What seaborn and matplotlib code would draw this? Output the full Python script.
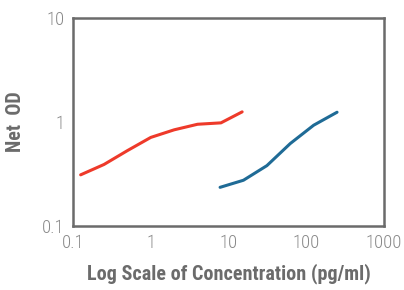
import numpy as np
import pandas as pd
import matplotlib
matplotlib.use('Agg')
import matplotlib.pyplot as plt
import seaborn as sns

# standard curves
red_conc = [0.125, 0.25, 0.5, 1, 2, 4, 8, 15]
red_od = [0.31, 0.39, 0.53, 0.71, 0.84, 0.95, 0.98, 1.25]
blue_conc = [7.8, 15.6, 31.25, 62.5, 125, 250]
blue_od = [0.235, 0.275, 0.38, 0.62, 0.93, 1.24]

xticks = [0.1, 1, 10, 100, 1000]
xtick_labels = ['0.1', '1', '10', '100', '1000']
yticks = [0.1, 1, 10]
ytick_labels = ['0.1', '1', '10']

sns.set_theme(style='white')
plt.rcParams['font.family'] = ['Roboto Condensed', 'DejaVu Sans']

df = pd.concat([
	pd.DataFrame({'conc': red_conc, 'od': red_od, 'curve': 'red'}),
	pd.DataFrame({'conc': blue_conc, 'od': blue_od, 'curve': 'blue'}),
])

fig = plt.figure(figsize=(4.04, 2.90), dpi=100)
ax = fig.add_axes([0.181, 0.221, 0.769, 0.717])
sns.lineplot(data=df, x='conc', y='od', hue='curve', palette={'red': '#ee3a2a', 'blue': '#1f6b96'},
	linewidth=2.2, legend=False, ax=ax, sort=False)
ax.set_xscale('log')
ax.set_yscale('log')
ax.set_xlim(0.1, 1000)
ax.set_ylim(0.1, 10)
ax.set_xticks(xticks)
ax.set_xticklabels(xtick_labels)
ax.set_yticks(yticks)
ax.set_yticklabels(ytick_labels)
ax.minorticks_off()
ax.tick_params(axis='both', length=0, labelsize=13.5, labelcolor='#8a8a8a', pad=6)
for lab in ax.get_xticklabels() + ax.get_yticklabels():
	lab.set_fontweight(300)
for s in ax.spines.values():
	s.set_color('#6b6b6b')
	s.set_linewidth(1.8)
ax.set_xlabel('Log Scale of Concentration (pg/ml)', fontsize=14.5, fontweight='bold', color='#6b6b6b', labelpad=8)
ax.set_ylabel('Net  OD', fontsize=14.5, fontweight='bold', color='#6b6b6b', labelpad=12)

fig.savefig('out.png', dpi=100)
